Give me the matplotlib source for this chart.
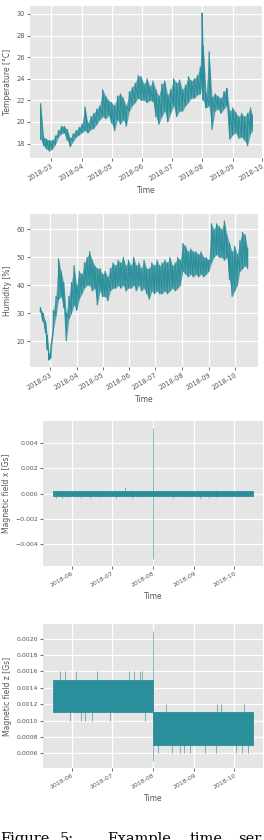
import matplotlib
matplotlib.use('Agg')
import matplotlib.pyplot as plt
import matplotlib.dates as mdates
import numpy as np
import pandas as pd

plt.style.use('ggplot')

# ------------------------------------------------------------------------------
# ------------------------------------------------------------------------- DATA
# temperature envelope (lowest / highest reading around each date)
temp_dates = ['2018-02-18', '2018-02-21', '2018-02-24', '2018-02-27', '2018-03-02',
              '2018-03-05', '2018-03-08', '2018-03-11', '2018-03-14', '2018-03-17',
              '2018-03-20', '2018-03-23', '2018-03-26', '2018-03-29',
              '2018-04-01', '2018-04-04', '2018-04-07', '2018-04-10', '2018-04-13',
              '2018-04-16', '2018-04-19', '2018-04-22', '2018-04-25', '2018-04-28',
              '2018-05-01', '2018-05-04', '2018-05-07', '2018-05-10', '2018-05-13',
              '2018-05-16', '2018-05-19', '2018-05-22', '2018-05-25', '2018-05-28',
              '2018-05-31',
              '2018-06-03', '2018-06-06', '2018-06-09', '2018-06-12', '2018-06-15',
              '2018-06-18', '2018-06-21', '2018-06-24', '2018-06-27', '2018-06-30',
              '2018-07-03', '2018-07-06', '2018-07-09', '2018-07-12', '2018-07-15',
              '2018-07-18', '2018-07-21', '2018-07-24', '2018-07-27', '2018-07-30',
              '2018-08-01', '2018-08-02', '2018-08-05', '2018-08-08', '2018-08-11',
              '2018-08-14', '2018-08-17', '2018-08-20', '2018-08-23', '2018-08-26',
              '2018-08-29',
              '2018-09-01', '2018-09-04', '2018-09-07', '2018-09-10', '2018-09-13',
              '2018-09-16', '2018-09-19', '2018-09-21']
temp_lo = [18.4, 17.8, 17.5, 17.3, 17.5, 17.9, 18.6, 18.9, 19.0, 18.3, 17.7, 18.2, 18.6, 18.8,
           19.0, 19.2, 19.0, 19.3, 19.4, 19.8, 20.2, 20.5, 20.3, 20.6,
           19.9, 19.2, 20.2, 19.8, 20.2, 19.6, 21.0, 21.5, 21.8, 22.2, 22.0,
           22.0, 21.8, 22.0, 21.9, 20.5, 19.8, 20.5, 21.0, 20.0, 20.8,
           21.5, 20.5, 21.0, 21.0, 21.5, 21.8, 22.2, 22.2, 22.5, 22.6,
           23.5, 22.0, 21.3, 21.5, 19.3, 21.0, 21.2, 20.8, 21.2, 21.5, 18.4,
           18.8, 19.0, 18.5, 18.6, 18.3, 17.8, 18.9, 19.2]
temp_hi = [21.7, 18.6, 18.4, 18.3, 18.3, 18.7, 19.2, 19.6, 19.6, 19.3, 18.5, 18.9, 19.2, 19.5,
           19.8, 21.4, 19.9, 20.5, 20.8, 21.2, 21.5, 23.0, 22.4, 22.0,
           21.8, 21.5, 22.4, 22.6, 22.2, 21.5, 22.8, 23.2, 23.6, 24.3, 24.2,
           23.5, 24.0, 23.3, 23.8, 23.0, 22.4, 23.5, 23.8, 22.5, 23.0,
           24.0, 23.6, 23.9, 23.0, 23.4, 24.2, 23.8, 24.0, 24.3, 25.1,
           30.1, 27.0, 22.6, 26.5, 22.3, 22.6, 22.4, 22.2, 22.8, 23.1, 21.0,
           21.3, 20.9, 20.5, 20.8, 20.5, 20.8, 21.3, 20.6]

# humidity envelope
hum_dates = ['2018-02-18', '2018-02-21', '2018-02-24', '2018-02-26', '2018-02-28',
             '2018-03-02', '2018-03-05', '2018-03-08', '2018-03-11', '2018-03-14',
             '2018-03-17', '2018-03-20', '2018-03-23', '2018-03-26', '2018-03-29',
             '2018-04-01', '2018-04-04', '2018-04-07', '2018-04-10', '2018-04-13',
             '2018-04-16', '2018-04-19', '2018-04-22', '2018-04-25', '2018-04-28',
             '2018-05-01', '2018-05-04', '2018-05-07', '2018-05-10', '2018-05-13',
             '2018-05-16', '2018-05-19', '2018-05-22', '2018-05-25', '2018-05-28',
             '2018-05-31',
             '2018-06-03', '2018-06-06', '2018-06-09', '2018-06-12', '2018-06-15',
             '2018-06-18', '2018-06-21', '2018-06-24', '2018-06-27', '2018-06-30',
             '2018-07-03', '2018-07-06', '2018-07-09', '2018-07-12', '2018-07-15',
             '2018-07-18', '2018-07-21', '2018-07-24', '2018-07-27', '2018-07-30',
             '2018-08-02', '2018-08-05', '2018-08-08', '2018-08-11', '2018-08-14',
             '2018-08-17', '2018-08-20', '2018-08-23', '2018-08-26', '2018-08-29',
             '2018-09-01', '2018-09-04', '2018-09-07', '2018-09-10', '2018-09-13',
             '2018-09-16', '2018-09-19', '2018-09-22', '2018-09-25', '2018-09-28',
             '2018-10-01', '2018-10-04', '2018-10-07', '2018-10-10', '2018-10-13',
             '2018-10-16']
hum_lo = [30.5, 27, 23, 17, 13.3, 14, 24, 29, 35, 36, 32, 20.2, 28, 30, 33,
          31, 35, 37, 39, 40, 40, 38, 39, 33, 38,
          36, 36, 34.5, 38, 39, 39, 40, 39, 40, 38, 39,
          39, 40, 38, 40, 38, 39, 37, 35, 38, 37,
          38, 37, 37, 38, 37, 38, 39, 38, 39, 40,
          45, 44, 43, 44, 43, 44, 43, 44, 43, 44,
          45, 48, 50, 51, 50, 50, 49, 50, 42, 36,
          38, 40, 45, 46, 47, 46]
hum_hi = [32, 30, 27, 22, 15.5, 18, 31, 36, 49.5, 45, 41, 30, 36, 41, 47,
          40, 45, 44, 48, 50, 52, 49, 47, 46, 46,
          44, 45, 43, 46, 48, 47, 49, 48, 50, 47, 49,
          47, 50, 47, 48, 46, 49, 46, 46, 48, 47,
          49, 47, 48, 49, 48, 50, 47, 48, 50, 49,
          55, 54, 52, 53, 52, 52, 51, 52, 50, 50,
          49, 62, 60, 62, 61, 60, 63, 58, 55, 52,
          54, 51, 56, 59, 58, 53]

# magnetic field x: dense band plus isolated excursions
magx_band_dates = ['2018-05-18', '2018-10-15']
magx_band_lo = [-0.0002, -0.0002]
magx_band_hi = [0.0002, 0.0002]
magx_spike_dates = ['2018-05-20', '2018-05-25', '2018-05-29', '2018-06-08', '2018-06-15',
                    '2018-06-22', '2018-07-04', '2018-07-11', '2018-07-16', '2018-07-21',
                    '2018-08-01', '2018-08-16', '2018-08-26', '2018-09-05', '2018-09-12',
                    '2018-09-17']
magx_spike_lo = [-0.00032, -0.00032, -0.0003, -0.00032, -0.00032,
                 -0.0003, -0.00032, 0.0, -0.00032, -0.0003,
                 -0.0052, -0.00032, -0.0003, -0.00032, -0.00032,
                 -0.0003]
magx_spike_hi = [0.0, 0.0003, 0.0, 0.0, 0.0003,
                 0.0, 0.0, 0.0005, 0.0003, 0.0,
                 0.0052, 0.0, 0.0003, 0.0, 0.0,
                 0.0003]

# magnetic field z: two quantised bands plus isolated excursions
magz_band_dates = ['2018-05-18', '2018-08-01', '2018-08-01', '2018-10-15']
magz_band_lo = [0.0011, 0.0011, 0.0007, 0.0007]
magz_band_hi = [0.0015, 0.0015, 0.0011, 0.0011]
magz_spike_dates = ['2018-05-23', '2018-05-27', '2018-06-04', '2018-06-20', '2018-07-14',
                    '2018-07-18', '2018-07-22', '2018-07-24',
                    '2018-05-31', '2018-06-08', '2018-06-11', '2018-06-16', '2018-06-30',
                    '2018-07-26',
                    '2018-08-01',
                    '2018-08-11', '2018-09-18', '2018-09-21', '2018-10-08',
                    '2018-08-05', '2018-08-15', '2018-08-21', '2018-08-24', '2018-08-29',
                    '2018-09-09', '2018-09-17', '2018-10-02', '2018-10-07', '2018-10-11']
magz_spike_lo = [0.0015, 0.0015, 0.0015, 0.0015, 0.0015, 0.0015, 0.0015, 0.0015,
                 0.0010, 0.0010, 0.0010, 0.0010, 0.0010, 0.0010,
                 0.0005,
                 0.0011, 0.0011, 0.0011, 0.0011,
                 0.0006, 0.0006, 0.0006, 0.0006, 0.0006,
                 0.0006, 0.0006, 0.0006, 0.0006, 0.0006]
magz_spike_hi = [0.0016, 0.0016, 0.0016, 0.0016, 0.0016, 0.0016, 0.0016, 0.0016,
                 0.0011, 0.0011, 0.0011, 0.0011, 0.0011, 0.0011,
                 0.0021,
                 0.0012, 0.0012, 0.0012, 0.0012,
                 0.0007, 0.0007, 0.0007, 0.0007, 0.0007,
                 0.0007, 0.0007, 0.0007, 0.0007, 0.0007]

# ------------------------------------------------------------------------------
# ------------------------------------------------------------------------ STYLE
COLOR = '#2b8f9b'
GREY = '#555555'


def style_axes(ax, ylabel, tsize):
	ax.set_facecolor('#E5E5E5')
	ax.grid(True, color='white', linewidth=0.9)
	ax.set_axisbelow(True)
	for s in ax.spines.values():
		s.set_visible(False)
	ax.xaxis.set_major_locator(mdates.MonthLocator())
	ax.xaxis.set_major_formatter(mdates.DateFormatter('%Y-%m'))
	ax.tick_params(axis='both', labelsize=tsize, colors=GREY, length=2, width=0.6, pad=1.5)
	plt.setp(ax.get_xticklabels(), rotation=30, ha='right', rotation_mode='anchor')
	ax.set_xlabel('Time', fontsize=5.5, color=GREY, labelpad=3)
	ax.set_ylabel(ylabel, fontsize=5.5, color=GREY, labelpad=3)


def zigzag(ax, dates, lo, hi):
	d = pd.to_datetime(dates)
	ax.fill_between(d, lo, hi, color=COLOR, alpha=0.75, linewidth=0)
	x = np.repeat(d.values, 2)
	y = np.column_stack([lo, hi]).ravel()
	ax.plot(x, y, color=COLOR, linewidth=0.8)


def band(ax, dates, lo, hi, sdates, slo, shi):
	d = pd.to_datetime(dates)
	ax.fill_between(d, lo, hi, color=COLOR, linewidth=0.6, edgecolor=COLOR)
	ax.vlines(pd.to_datetime(sdates), slo, shi, color=COLOR, linewidth=0.6, alpha=0.7)


# ------------------------------------------------------------------------------
# ------------------------------------------------------------------------- MAIN
fig = plt.figure(figsize=(2.64, 8.4), dpi=100)
W, H = 264.0, 840.0


def add_axes(x0, y0, x1, y1):
	return fig.add_axes([x0 / W, 1 - y1 / H, (x1 - x0) / W, (y1 - y0) / H])


ax1 = add_axes(30, 6, 263, 158)
zigzag(ax1, temp_dates, temp_lo, temp_hi)
ax1.set_yticks([18, 20, 22, 24, 26, 28, 30])
style_axes(ax1, 'Temperature [°C]', 4.8)

ax2 = add_axes(30, 214, 258, 367)
zigzag(ax2, hum_dates, hum_lo, hum_hi)
ax2.set_yticks([20, 30, 40, 50, 60])
style_axes(ax2, 'Humidity [%]', 4.8)

ax3 = add_axes(43, 421, 263, 566)
band(ax3, magx_band_dates, magx_band_lo, magx_band_hi,
     magx_spike_dates, magx_spike_lo, magx_spike_hi)
ax3.set_yticks([-0.004, -0.002, 0.0, 0.002, 0.004])
style_axes(ax3, 'Magnetic field x [Gs]', 4.5)

ax4 = add_axes(43, 624, 263, 768)
band(ax4, magz_band_dates, magz_band_lo, magz_band_hi,
     magz_spike_dates, magz_spike_lo, magz_spike_hi)
ax4.set_yticks([0.0006, 0.0008, 0.0010, 0.0012, 0.0014, 0.0016, 0.0018, 0.0020])
style_axes(ax4, 'Magnetic field z [Gs]', 4.5)

# caption (cut off at the bottom of the page, as in the source page)
caption = [('Figure', 0), ('5:', 60), ('Example', 107), ('time', 190), ('ser', 238)]
for word, px in caption:
	fig.text(px / W, 1 - 832 / H, word, family='DejaVu Serif', fontsize=10.5,
	         color='black', ha='left', va='top')

fig.savefig('out.png', dpi=100)
